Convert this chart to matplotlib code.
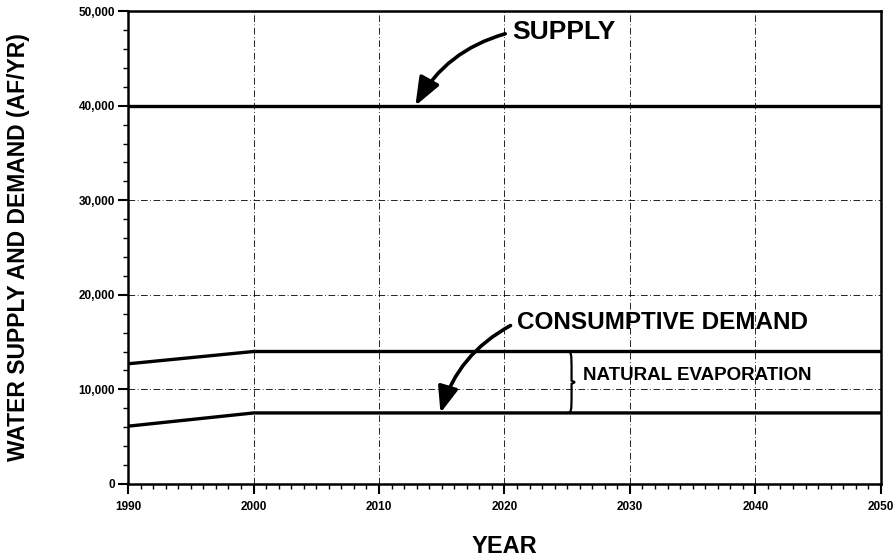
import matplotlib
matplotlib.use("Agg")
import matplotlib.pyplot as plt
from matplotlib.path import Path
from matplotlib.patches import PathPatch
from matplotlib.ticker import MultipleLocator, FuncFormatter

plt.rcParams["font.family"] = ["Liberation Sans", "DejaVu Sans"]
plt.rcParams["font.weight"] = "bold"

# data
years = [1990, 2000, 2050]
supply = [40000, 40000, 40000]
total_demand = [12700, 14000, 14000]
consumptive_demand = [6100, 7500, 7500]


def draw_brace(ax, x, y0, y1, width):
    """ draws a right-facing curly brace between y0 and y1 at x (data units) """
    ym = (y0 + y1) / 2.0
    w = width
    verts = [
        (x, y1), (x + w, y1), (x + w, y1), (x + w, ym + (y1 - ym) * 0.3),
        (x + w, ym + (y1 - ym) * 0.05), (x + w * 1.6, ym),
        (x + w, ym - (y1 - ym) * 0.05), (x + w, ym - (y1 - ym) * 0.3),
        (x + w, y0), (x + w, y0), (x, y0),
    ]
    codes = [Path.MOVETO, Path.CURVE4, Path.CURVE4, Path.CURVE4,
             Path.LINETO, Path.LINETO, Path.LINETO,
             Path.LINETO, Path.CURVE4, Path.CURVE4, Path.CURVE4]
    ax.add_patch(PathPatch(Path(verts, codes), fill=False, lw=1.6, color="black"))


fig = plt.figure(figsize=(8.96, 5.6), dpi=100)
ax = fig.add_axes([0.143, 0.136, 0.840, 0.844])

ax.plot(years, supply, color="black", lw=2.4)
ax.plot(years, total_demand, color="black", lw=2.4)
ax.plot(years, consumptive_demand, color="black", lw=2.4)

ax.set_xlim(1990, 2050)
ax.set_ylim(0, 50000)
ax.xaxis.set_major_locator(MultipleLocator(10))
ax.xaxis.set_minor_locator(MultipleLocator(1))
ax.yaxis.set_major_locator(MultipleLocator(10000))
ax.yaxis.set_minor_locator(MultipleLocator(2000))
ax.yaxis.set_major_formatter(FuncFormatter(lambda v, p: "{:,.0f}".format(v)))

ax.grid(True, which="major", color="black", lw=0.6, linestyle=(0, (8, 3, 1, 3)))
ax.tick_params(which="major", length=7, width=1.5, labelsize=8.5, direction="out")
ax.tick_params(axis="x", which="major", pad=5)
ax.tick_params(axis="y", which="major", pad=2.5)
ax.tick_params(which="minor", length=3.6, width=1.0, direction="out")
for s in ax.spines.values():
    s.set_linewidth(1.8)
for lab in ax.get_xticklabels() + ax.get_yticklabels():
    lab.set_fontweight("bold")

ax.set_xlabel("YEAR", fontsize=17, fontweight="bold")
ax.xaxis.set_label_coords(0.5, -0.108)
ax.set_ylabel("WATER SUPPLY AND DEMAND (AF/YR)", fontsize=16.5, fontweight="bold", va="center")
ax.yaxis.set_label_coords(-0.145, 0.5)

arrow = dict(arrowstyle="-|>,head_length=0.9,head_width=0.35", color="black", lw=2.6,
             shrinkA=3, shrinkB=0, relpos=(0, 0.5))
ax.annotate("SUPPLY", xy=(2012.9, supply[1]), xytext=(2020.6, 47800),
            fontsize=19, fontweight="bold", va="center", ha="left",
            arrowprops=dict(arrow, connectionstyle="arc3,rad=0.22"))
ax.annotate("CONSUMPTIVE DEMAND", xy=(2014.9, consumptive_demand[1]), xytext=(2021.0, 17100),
            fontsize=17.5, fontweight="bold", va="center", ha="left",
            arrowprops=dict(arrow, connectionstyle="arc3,rad=0.22"))

draw_brace(ax, 2024.9, consumptive_demand[1], total_demand[1], 0.45)
ax.text(2026.3, (consumptive_demand[1] + total_demand[1]) / 2 + 700, "NATURAL EVAPORATION",
        fontsize=13.5, fontweight="bold", va="center", ha="left")

fig.savefig("out.png", dpi=100)
